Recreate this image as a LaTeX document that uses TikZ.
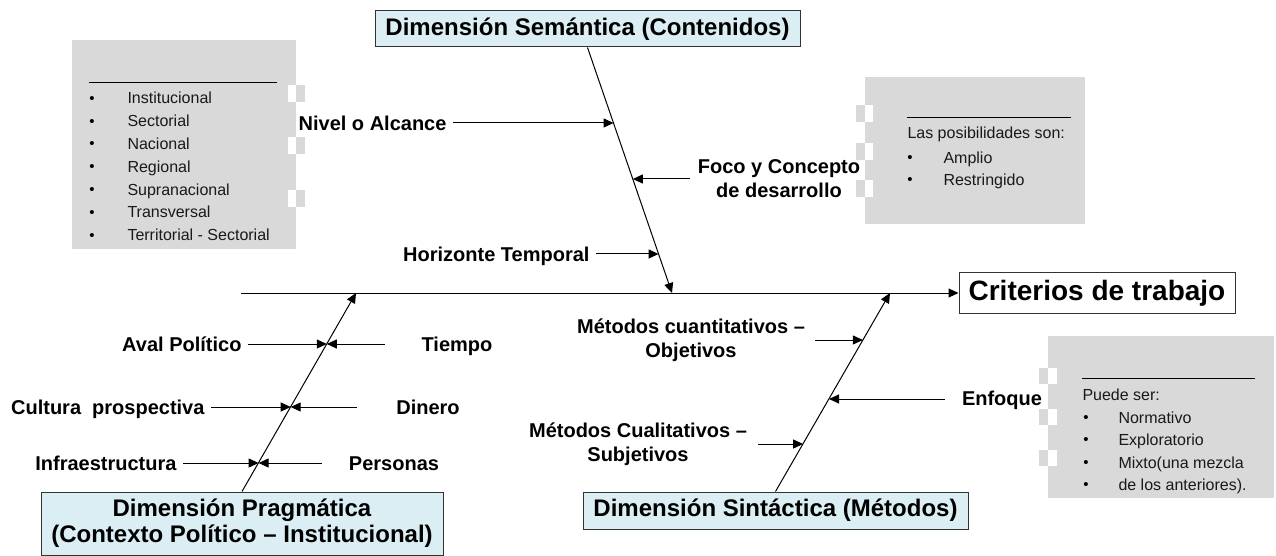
\documentclass[tikz,border=0pt]{standalone}
\usepackage{fontspec}
\setmainfont{Liberation Sans}
\usetikzlibrary{arrows.meta}

\definecolor{dimblue}{RGB}{219,238,244}
\definecolor{boxgray}{RGB}{217,217,217}

\tikzset{
  lbl/.style={font=\fontsize{10}{12}\selectfont\bfseries, inner sep=3pt, text height=7.2pt, text depth=0pt},
  lbltwo/.style={font=\fontsize{10}{12}\selectfont\bfseries, inner sep=3pt, align=center},
  dim/.style={draw=black!80, fill=dimblue, font=\fontsize{12}{13}\selectfont\bfseries, align=center, inner sep=2pt},
  item/.style={font=\fontsize{8}{10}\selectfont, anchor=base west, inner sep=0pt, text=black!90},
  bul/.style={font=\fontsize{7.5}{9}\selectfont, anchor=base, inner sep=0pt, yshift=0.3pt}
}

\begin{document}
\begin{tikzpicture}[x=0.5pt, y=-0.5pt, line width=0.5pt, >={Triangle[length=5pt,width=4.5pt]}]
  \useasboundingbox (0,0) rectangle (1276,556);

  % gray boxes
  \fill[boxgray] (72,40) rectangle (296,249);
  \fill[boxgray] (865,77) rectangle (1085,224);
  \fill[boxgray] (1048,336) rectangle (1274,498);

  \foreach \y in {85,137,190} {
    \fill[white] (288,\y) rectangle (296,\y+17);
    \fill[boxgray] (296,\y) rectangle (305,\y+17);
  }
  \foreach \y in {105,143,180} {
    \fill[boxgray] (856,\y) rectangle (865,\y+17);
    \fill[white] (865,\y) rectangle (873,\y+17);
  }
  \foreach \y in {368,409,450} {
    \fill[boxgray] (1039,\y) rectangle (1048,\y+16);
    \fill[white] (1048,\y) rectangle (1057,\y+16);
  }

  \draw (89,83) -- (277,83);
  \draw (907,118) -- (1071,118);
  \draw (1082,378) -- (1255,378);

  \foreach \t [count=\i from 0] in {Institucional, Sectorial, Nacional, Regional, Supranacional, Transversal, Territorial - Sectorial} {
    \node[bul] (nivb\i) at (92,104+22.8*\i) {•};
    \node[item] (niv\i) at (127,104+22.8*\i) {\t};
  }

  \node[item] (focot) at (907,139) {Las posibilidades son:};
  \foreach \t [count=\i from 0] in {Amplio, Restringido} {
    \node[bul] (focb\i) at (910,163+22*\i) {•};
    \node[item] (foc\i) at (943,163+22*\i) {\t};
  }

  \node[item] (enft) at (1082,400) {Puede ser:};
  \foreach \t [count=\i from 0] in {Normativo, Exploratorio, {Mixto(una mezcla}, {de los anteriores).}} {
    \node[bul] (enfb\i) at (1086,423+22.5*\i) {•};
    \node[item] (enf\i) at (1118,423+22.5*\i) {\t};
  }

  % dimensions
  \node[dim, minimum width=212.5pt, minimum height=18pt] (sem) at (587.5,29) {Dimensión Semántica (Contenidos)};
  \node[dim, minimum width=201pt, minimum height=31.5pt] (prag) at (242,523.5) {Dimensión Pragmática\\(Contexto Político – Institucional)};
  \node[dim, minimum width=192.5pt, minimum height=18.5pt] (sin) at (775.5,510.5) {Dimensión Sintáctica (Métodos)};
  \node[draw=black!80, fill=white, font=\fontsize{14}{16}\selectfont\bfseries, minimum width=138pt, minimum height=20pt] (crit) at (1097,293) {Criterios de trabajo};

  \coordinate (spinestart) at (241,293);
  \coordinate (semtip) at (672,293);
  \coordinate (pragtip) at (356,293);
  \coordinate (sintip) at (890,293);

  \draw[->] (spinestart) -- (crit.west);
  \draw[->] (sem.south) -- (semtip);
  \draw[->] (prag.north) -- (pragtip);
  \draw[->] (sin.north) -- (sintip);

  % causes
  \node[lbl, anchor=east] (nivel) at (453,123) {Nivel o Alcance};
  \node[lbltwo] (foco) at (779,179) {Foco y Concepto\\de desarrollo};
  \node[lbl, anchor=east] (horiz) at (596,254) {Horizonte Temporal};
  \node[lbl, anchor=east] (aval) at (248,344) {Aval Político};
  \node[lbl] (tiempo) at (457,344) {Tiempo};
  \node[lbl, anchor=east] (cultura) at (211,407) {Cultura\ \ prospectiva};
  \node[lbl] (dinero) at (428,407) {Dinero};
  \node[lbl, anchor=east] (infra) at (183,463) {Infraestructura};
  \node[lbl] (personas) at (394,463) {Personas};
  \node[lbltwo] (cuanti) at (691,340) {Métodos cuantitativos –\\Objetivos};
  \node[lbltwo] (cuali) at (638,444) {Métodos Cualitativos –\\Subjetivos};
  \node[lbl] (enfoque) at (1002,398) {Enfoque};

  \coordinate (nivelhit) at (613.6,123);
  \coordinate (focohit) at (632.8,179);
  \coordinate (horizhit) at (658.6,254);
  \coordinate (avalhit) at (326.8,344);
  \coordinate (culturahit) at (290.7,407);
  \coordinate (infrahit) at (258.6,463);
  \coordinate (cuantihit) at (862.9,340);
  \coordinate (enfoquehit) at (829,399);
  \coordinate (cualihit) at (803.1,444);

  \coordinate (focostart) at (690,179);
  \coordinate (tiempostart) at (385,344);
  \coordinate (dinerostart) at (357,407);
  \coordinate (personasstart) at (322,463);
  \coordinate (cuantistart) at (815,340);
  \coordinate (enfoquestart) at (945,399);
  \coordinate (cualistart) at (758,444);

  \draw[->] (nivel.east) -- (nivelhit);
  \draw[->] (focostart) -- (focohit);
  \draw[->] (horiz.east) -- (horizhit);

  \draw[->] (aval.east) -- (avalhit);
  \draw[->] (tiempostart) -- (avalhit);
  \draw[->] (cultura.east) -- (culturahit);
  \draw[->] (dinerostart) -- (culturahit);
  \draw[->] (infra.east) -- (infrahit);
  \draw[->] (personasstart) -- (infrahit);

  \draw[->] (cuantistart) -- (cuantihit);
  \draw[->] (enfoquestart) -- (enfoquehit);
  \draw[->] (cualistart) -- (cualihit);
\end{tikzpicture}
\end{document}
